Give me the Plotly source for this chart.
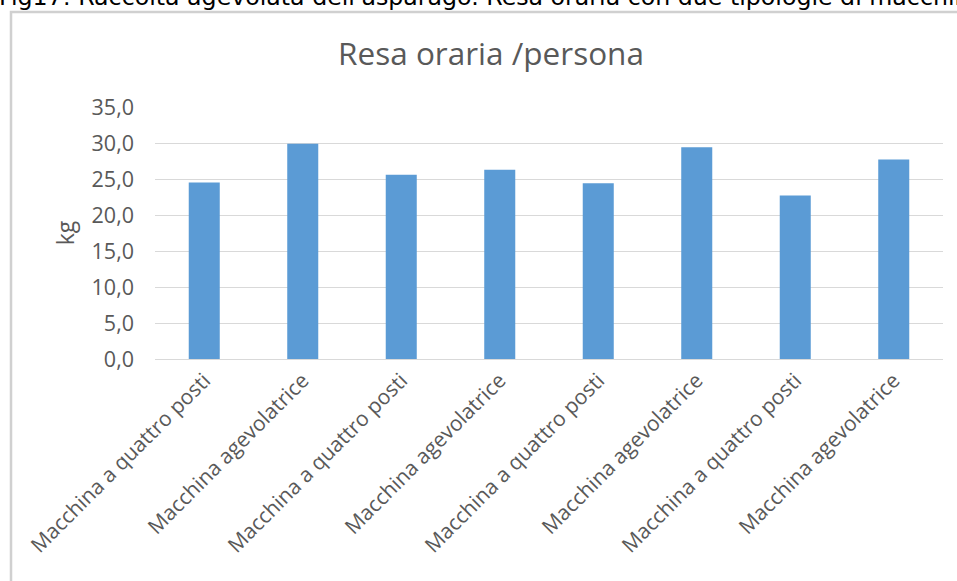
import plotly.graph_objects as go

categories = ["Macchina a quattro posti", "Macchina agevolatrice"] * 4
values = [24.5, 29.9, 25.6, 26.3, 24.4, 29.4, 22.7, 27.7]
y_ticks = [0, 5, 10, 15, 20, 25, 30, 35]
y_ticklabels = ["0,0", "5,0", "10,0", "15,0", "20,0", "25,0", "30,0", "35,0"]

W, H = 957, 581
L, R, T, B = 155, 14, 107, 222
pw, ph = W - L - R, H - T - B

def px2x(px):
    return (px - L) / pw

def py2y(py):
    return (H - B - py) / ph

positions = list(range(len(categories)))

fig = go.Figure(go.Bar(
    x=positions, y=values, marker_color="#5b9bd5",
    marker_line_width=0, width=0.315,
))

fig.update_layout(
    width=W, height=H,
    margin=dict(l=L, r=R, t=T, b=B),
    paper_bgcolor="white", plot_bgcolor="white",
    font=dict(family="Open Sans", color="#595959"),
    showlegend=False,
    title=dict(text="Resa oraria /persona", x=px2x(491), xref="paper", xanchor="center",
               y=1 - 54 / H, yanchor="middle",
               font=dict(size=31.5, color="#595959", family="Open Sans")),
    xaxis=dict(
        tickmode="array", tickvals=positions, ticktext=categories,
        tickangle=-45, range=[-0.5, 7.5], showgrid=False,
        showline=False, ticks="", tickfont=dict(size=21, color="#595959"),
        ticklabelstandoff=4,
    ),
    yaxis=dict(
        range=[0, 35], tickmode="array", tickvals=y_ticks, ticktext=y_ticklabels,
        showgrid=True, gridcolor="#d9d9d9", gridwidth=1, zeroline=True,
        zerolinecolor="#d9d9d9", zerolinewidth=1,
        tickfont=dict(size=21.5, color="#595959"), ticks="", ticklabelstandoff=20,
        title=dict(text="kg", font=dict(size=23, color="#595959"), standoff=10),
    ),
)

# outer chart frame
fig.add_shape(type="rect", xref="paper", yref="paper",
              x0=px2x(11), x1=px2x(975), y0=py2y(600), y1=py2y(12),
              line=dict(color="#d0d0d0", width=2.5), fillcolor="rgba(0,0,0,0)", layer="below")

# caption partially cut at the top of the image
fig.add_annotation(text="Fig17: Raccolta agevolata dell'asparago. Resa oraria con due tipologie di macchine",
                   xref="paper", yref="paper", x=px2x(-3), y=py2y(13),
                   xanchor="left", yanchor="bottom", showarrow=False,
                   font=dict(family="DejaVu Sans", size=23.7, color="#000000"))

fig.write_html("out.html", config={"displayModeBar": False},
               post_script="document.body.style.margin='0';")
